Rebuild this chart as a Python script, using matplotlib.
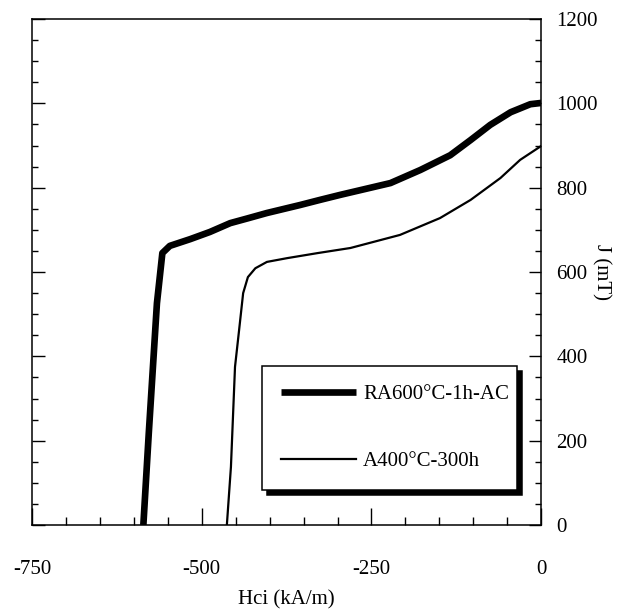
import numpy as np
import matplotlib.pyplot as plt
from matplotlib.ticker import MultipleLocator

# demagnetization curves, H in kA/m, J in mT
h_ra600 = [-586, -578, -566, -558, -547, -517, -488, -458, -433, -404, -355, -326, -296,
           -222, -178, -134, -104, -75, -45, -16, 0]
j_ra600 = [0, 218, 526, 645, 662, 678, 695, 716, 727, 740, 759, 771, 783,
           811, 842, 877, 913, 949, 979, 998, 1001]

h_a400 = [-463, -457, -451, -445, -439, -432, -421, -404, -374, -329, -281, -208, -149,
          -104, -60, -31, 0]
j_a400 = [0, 138, 375, 462, 550, 588, 609, 624, 633, 645, 657, 688, 728,
          771, 823, 866, 899]

labels = ['RA600°C-1h-AC', 'A400°C-300h']

plt.rcParams['font.family'] = ['Liberation Serif', 'DejaVu Serif']
plt.rcParams['axes.unicode_minus'] = False
fs = 15

fig = plt.figure(figsize=(6.24, 6.10), dpi=100)
ax = fig.add_axes([0.0513, 0.1393, 0.816, 0.8295])

ax.plot(h_ra600, j_ra600, color='black', lw=4.8, solid_capstyle='butt',
        solid_joinstyle='round', label=labels[0])
ax.plot(h_a400, j_a400, color='black', lw=1.6, solid_joinstyle='round', label=labels[1])

ax.set_xlim(-750, 0)
ax.set_ylim(0, 1200)
ax.xaxis.set_major_locator(MultipleLocator(250))
ax.xaxis.set_minor_locator(MultipleLocator(50))
ax.yaxis.set_major_locator(MultipleLocator(200))
ax.yaxis.set_minor_locator(MultipleLocator(50))

ax.yaxis.tick_right()
ax.yaxis.set_label_position('right')
ax.tick_params(axis='x', which='major', direction='in', length=12, width=1, pad=25, labelsize=fs)
ax.tick_params(axis='x', which='minor', direction='in', length=6, width=1)
ax.tick_params(axis='y', which='major', direction='in', length=9, width=1, pad=11,
               labelsize=fs, left=True, right=True)
ax.tick_params(axis='y', which='minor', direction='in', length=4.5, width=1,
               left=True, right=True)
for s in ax.spines.values():
    s.set_linewidth(1.1)

ax.set_xlabel('Hci (kA/m)', fontsize=fs, labelpad=8)
ax.set_ylabel('J (mT)', fontsize=fs, rotation=270, labelpad=9)

leg = ax.legend(loc='upper left', bbox_to_anchor=(0.452, 0.069, 0.501, 0.245), mode='expand',
                borderaxespad=0, fancybox=False, fontsize=fs, handlelength=3.6,
                handletextpad=0.35, labelspacing=2.25, borderpad=0.9,
                shadow={'ox': 3.5, 'oy': -3.5, 'color': 'black', 'alpha': 1})
leg.get_frame().set_edgecolor('black')
leg.get_frame().set_linewidth(1.1)
leg.get_frame().set_alpha(1)

fig.savefig('out.png', dpi=100)
